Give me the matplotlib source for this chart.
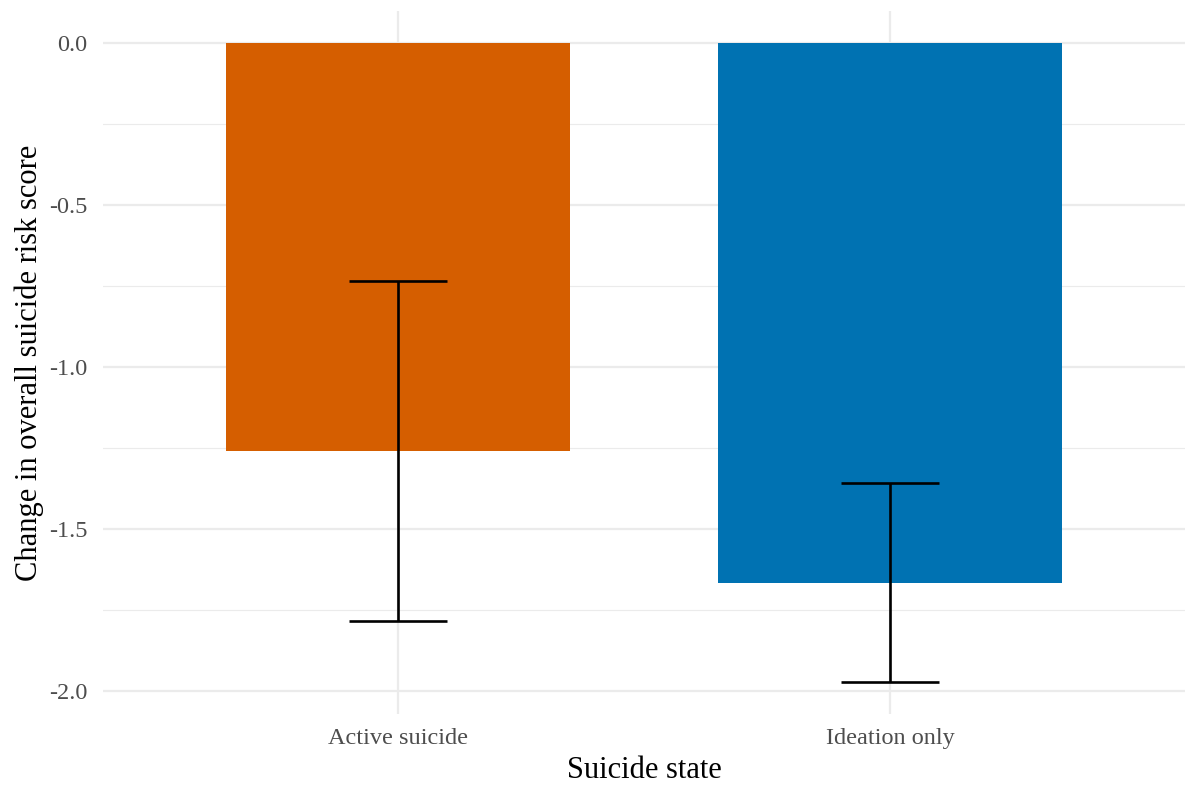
import matplotlib
matplotlib.use("Agg")
import matplotlib.pyplot as plt
from matplotlib.ticker import MultipleLocator, FormatStrFormatter

plt.rcParams['font.family'] = ['Liberation Serif', 'DejaVu Serif']

states = ["Active suicide", "Ideation only"]
mean_change = [-1.26, -1.665]
ci_low = [-1.784, -1.972]
ci_high = [-0.735, -1.358]
bar_colors = ["#D55E00", "#0072B2"]

fig = plt.figure(figsize=(11.94, 7.87), dpi=100)
ax = fig.add_axes([103 / 1194, (787 - 714) / 787, (1185 - 103) / 1194, (714 - 11) / 787])

xpos = list(range(1, len(states) + 1))
ax.bar(xpos, mean_change, width=0.7, color=bar_colors, zorder=2)

yerr_lo = [m - lo for m, lo in zip(mean_change, ci_low)]
yerr_hi = [hi - m for m, hi in zip(mean_change, ci_high)]
ax.errorbar(xpos, mean_change, yerr=[yerr_lo, yerr_hi], fmt="none",
            ecolor="black", elinewidth=1.9, capsize=0, zorder=3)
# horizontal caps drawn in data units (width 0.2)
for x, lo, hi in zip(xpos, ci_low, ci_high):
    ax.hlines([lo, hi], x - 0.1, x + 0.1, colors="black", linewidth=1.9, zorder=3)

span = max(ci_high + [0]) - min(ci_low)
ax.set_ylim(min(ci_low) - 0.05 * span, 0 + 0.05 * span)
ax.set_xlim(0.4, 2.6)

ax.set_xticks(xpos)
ax.set_xticklabels(states)
ax.yaxis.set_major_locator(MultipleLocator(0.5))
ax.yaxis.set_minor_locator(MultipleLocator(0.25))
ax.yaxis.set_major_formatter(FormatStrFormatter("%.1f"))

ax.grid(True, which="major", color="#EBEBEB", linewidth=1.6, zorder=0)
ax.grid(True, which="minor", axis="y", color="#EBEBEB", linewidth=0.8, zorder=0)
ax.set_axisbelow(True)
for s in ax.spines.values():
    s.set_visible(False)
ax.tick_params(axis="both", which="both", length=0, labelsize=17.5, labelcolor="#4D4D4D")
ax.tick_params(axis="x", pad=10)
ax.tick_params(axis="y", pad=11)

ax.set_xlabel("Suicide state", fontsize=22, labelpad=5)
ax.set_ylabel("Change in overall suicide risk score", fontsize=22, labelpad=4)

fig.savefig("out.png", dpi=100, facecolor="white")
